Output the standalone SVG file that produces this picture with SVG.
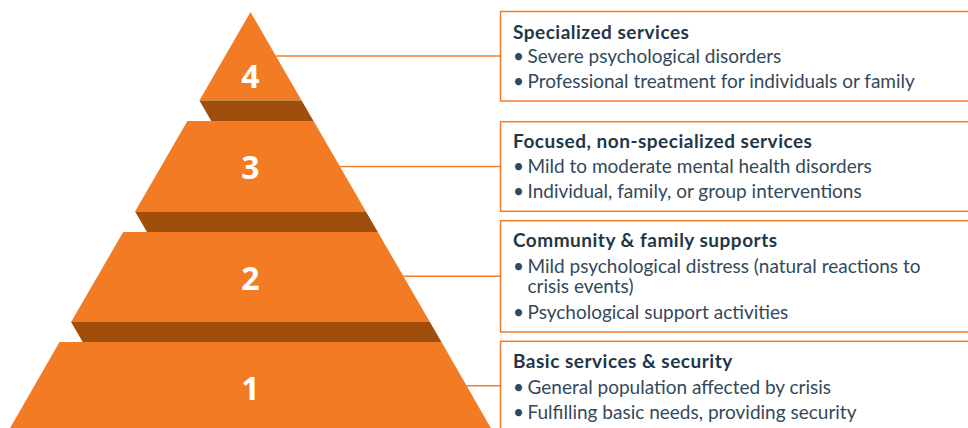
<svg xmlns="http://www.w3.org/2000/svg" width="968" height="428" viewBox="0 0 968 428">
<style>
.tier{fill:#F27B23}
.band{fill:#A04E0B}
.num{fill:#FFFFFF;font-family:"Open Sans",Lato,sans-serif;font-weight:700;font-size:32px;text-anchor:middle}
.box{fill:#FFFFFF;stroke:#F47B2A;stroke-width:1.5}
.conn{stroke:#F47B2A;stroke-width:1.5;fill:none}
.title{fill:#1F3747;font-family:Lato,"Open Sans",sans-serif;font-weight:700;font-size:19px;letter-spacing:0.5px}
.body{fill:#33495A;font-family:Lato,"Open Sans",sans-serif;font-size:19px}
</style>
<rect width="968" height="428" fill="#FFFFFF"/>
<g id="connectors">
<line class="conn" x1="276" y1="56" x2="500.5" y2="56"/>
<line class="conn" x1="339.5" y1="166.5" x2="500.5" y2="166.5"/>
<line class="conn" x1="403.5" y1="276.3" x2="500.5" y2="276.3"/>
<line class="conn" x1="466.5" y1="385.7" x2="500.5" y2="385.7"/>
</g>
<g id="tier4">
<polygon class="tier" points="250.5,12 301.6,100.5 199.4,100.5"/>
<polygon class="band" points="199.4,100.5 301.6,100.5 313.5,121 211.3,121"/>
<text class="num" x="250.5" y="87.5">4</text>
</g>
<g id="tier3">
<polygon class="tier" points="187.4,121 313.6,121 365.9,211.5 135.1,211.5"/>
<polygon class="band" points="135.1,211.5 365.9,211.5 377.8,232 147,232"/>
<text class="num" x="250.5" y="179">3</text>
</g>
<g id="tier2">
<polygon class="tier" points="123.2,232 377.8,232 429.9,322 71.1,322"/>
<polygon class="band" points="71.1,322 429.9,322 441.5,342 82.7,342"/>
<text class="num" x="250.5" y="290">2</text>
</g>
<g id="tier1">
<polygon class="tier" points="59.5,342 441.5,342 492,430 9,430"/>
<text class="num" x="250.5" y="400">1</text>
</g>
<g id="box4">
<rect class="box" x="500.5" y="11.5" width="470" height="89.5"/>
<text class="title" x="513" y="38.5">Specialized services</text>
<text class="body" y="63"><tspan x="513">•</tspan><tspan x="527.5">Severe psychological disorders</tspan></text>
<text class="body" y="87.5"><tspan x="513">•</tspan><tspan x="527.5">Professional treatment for individuals or family</tspan></text>
</g>
<g id="box3">
<rect class="box" x="500.5" y="121.7" width="470" height="89.6"/>
<text class="title" x="513" y="147.7">Focused, non-specialized services</text>
<text class="body" y="173.3"><tspan x="513">•</tspan><tspan x="527.5">Mild to moderate mental health disorders</tspan></text>
<text class="body" y="198.3"><tspan x="513">•</tspan><tspan x="527.5">Individual, family, or group interventions</tspan></text>
</g>
<g id="box2">
<rect class="box" x="500.5" y="220.7" width="470" height="111.3"/>
<text class="title" x="513" y="247.3">Community &amp; family supports</text>
<text class="body" y="273.3"><tspan x="513">•</tspan><tspan x="527.5">Mild psychological distress (natural reactions to</tspan><tspan x="527.5" y="293.3">crisis events)</tspan></text>
<text class="body" y="318.7"><tspan x="513">•</tspan><tspan x="527.5">Psychological support activities</tspan></text>
</g>
<g id="box1">
<rect class="box" x="500.5" y="341.3" width="470" height="100"/>
<text class="title" x="513" y="368.3">Basic services &amp; security</text>
<text class="body" y="394.3"><tspan x="513">•</tspan><tspan x="527.5">General population affected by crisis</tspan></text>
<text class="body" y="419.3"><tspan x="513">•</tspan><tspan x="527.5">Fulfilling basic needs, providing security</tspan></text>
</g>
</svg>
